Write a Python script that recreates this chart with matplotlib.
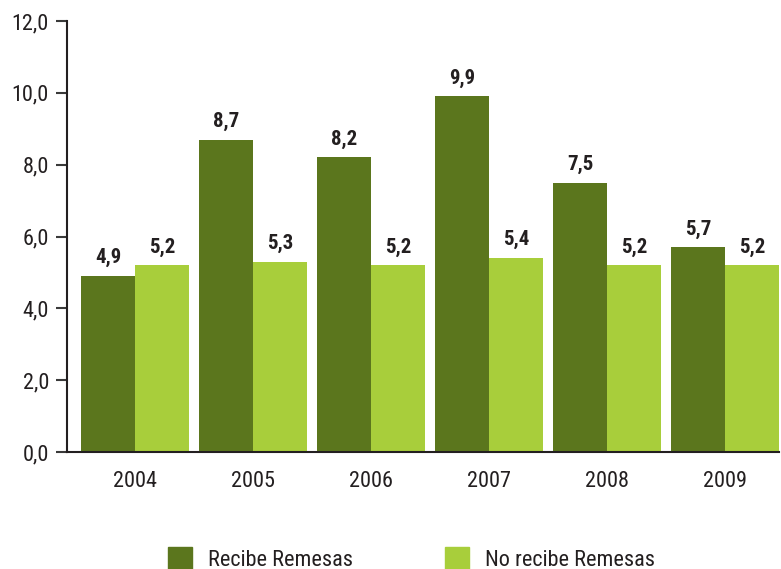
import matplotlib
matplotlib.use("Agg")
import matplotlib.pyplot as plt
import numpy as np
from matplotlib.patches import Patch

years = ["2004", "2005", "2006", "2007", "2008", "2009"]
recibe = [4.9, 8.7, 8.2, 9.9, 7.5, 5.7]
no_recibe = [5.2, 5.3, 5.2, 5.4, 5.2, 5.2]
series_names = ["Recibe Remesas", "No recibe Remesas"]
yticks = [0, 2, 4, 6, 8, 10, 12]

dark = "#5b761d"
light = "#a8ce3b"
txt = "#231f20"

plt.rcParams['font.family'] = ['Roboto Condensed', 'DejaVu Sans']

fig = plt.figure(figsize=(7.81, 5.69), dpi=100)
ax = fig.add_axes([67/781, 1-452/569, 712/781, 431/569])

x = np.arange(len(years))
w = 0.457
ax.bar(x - w/2, recibe, w, color=dark, label=series_names[0])
ax.bar(x + w/2, no_recibe, w, color=light, label=series_names[1])

def fmt(v):
    return f"{v:.1f}".replace(".", ",")

for xs, vals in ((x - w/2, recibe), (x + w/2, no_recibe)):
    for xi, v in zip(xs, vals):
        ax.annotate(fmt(v), (xi, v), xytext=(0, 9.2), textcoords="offset points",
                    ha="center", va="baseline", fontsize=15, fontweight="bold", color=txt)

ax.set_xlim(-0.576, 5.458)
ax.set_ylim(0, 12)
ax.set_yticks(yticks)
ax.set_yticklabels([fmt(t) for t in yticks], fontsize=16, color=txt)
ax.set_xticks(x)
ax.set_xticklabels(years, fontsize=16, color=txt)
ax.tick_params(axis="x", length=0, pad=14)
ax.tick_params(axis="y", length=8, width=1.5, color="#3a3a3a", pad=5)
for s in ["top", "right"]:
    ax.spines[s].set_visible(False)
for s in ["left", "bottom"]:
    ax.spines[s].set_linewidth(1.5)
    ax.spines[s].set_color(txt)

handles = [Patch(color=dark), Patch(color=light)]
fig.legend(handles, series_names, loc="center left", bbox_to_anchor=(168/781, 1-559/569),
           ncol=2, frameon=False, fontsize=16, handlelength=1.08, handleheight=1.08,
           borderpad=0, borderaxespad=0, columnspacing=4.1, handletextpad=0.74,
           labelcolor=txt)

fig.savefig("out.png", dpi=100)
